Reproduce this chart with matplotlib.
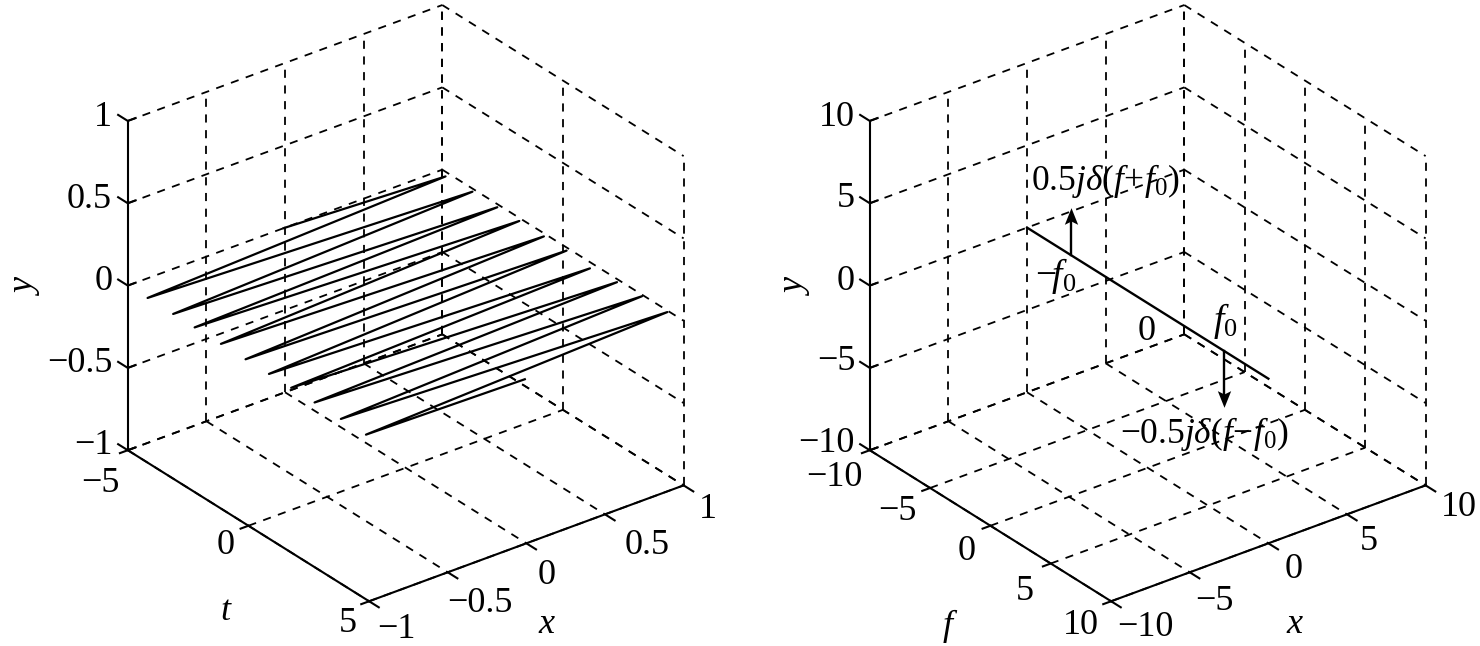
#!/usr/bin/env python3

import matplotlib
matplotlib.use("Agg")
import matplotlib.pyplot as plt

plt.rcParams["font.family"] = ["Liberation Serif", "DejaVu Serif"]
plt.rcParams["mathtext.fontset"] = "custom"
plt.rcParams["mathtext.rm"] = "Liberation Serif"
plt.rcParams["mathtext.it"] = "Liberation Serif:italic"

W, H = 1480, 646
SIDE = 655
FONT = 26

# left panel
t_ticks = [-5, 0, 5]
x_ticks = [-1, -0.5, 0, 0.5, 1]
y_ticks = [-1, -0.5, 0, 0.5, 1]

zigzag_t = [-5.0, -4.67, -4.18, -3.62, -3.12, -2.59, -2.23, -1.68, -1.14, -0.66, -0.12,
            0.28, 0.85, 1.38, 1.77, 2.37, 2.74, 3.34, 3.83, 4.39, 4.87, 5.0]
zigzag_x = [-0.01, 0.97, -1.0, 0.98, -1.0, 0.98, -1.0, 0.98, -1.0, 0.98, -1.0,
            0.98, -1.0, 0.96, -1.0, 0.98, -1.0, 0.99, -1.0, 0.99, -1.0, -0.01]

# right panel
f_ticks = [-10, -5, 0, 5, 10]
xf_ticks = [-10, -5, 0, 5, 10]
yf_ticks = [-10, -5, 0, 5, 10]

line_f = [-10, 10]
f0 = 6.32
up_height = 2.4
down_height = -2.9

DASH = (0, (4.5, 4.2))
HEAD = [(0, 1), (-0.8, -1), (0, -0.6), (0.8, -1)]


def make_axes(cx, cy, xl, yl, zl):
    ax = plt.figure(1).add_axes(
        [(cx - SIDE / 2) / W, 1 - (cy + SIDE / 2) / H, SIDE / W, SIDE / H],
        projection="3d", proj_type="ortho")
    ax.view_init(28.7, -37.5)
    ax.set_box_aspect((1, 1, 0.947))
    ax.set_xlim(*xl, view_margin=0)
    ax.set_ylim(*yl, view_margin=0)
    ax.set_zlim(*zl, view_margin=0)
    ax.set_axis_off()
    return ax


def draw_box(ax, ts, xs, ys):
    t0, t1 = ts[0], ts[-1]
    x0, x1 = xs[0], xs[-1]
    y0, y1 = ys[0], ys[-1]
    grid = dict(color="k", lw=1.3, ls=DASH)
    for t in ts:
        ax.plot([t, t], [x0, x1], [y0, y0], **grid)
        ax.plot([t, t], [x1, x1], [y0, y1], **grid)
    for x in xs:
        ax.plot([t0, t1], [x, x], [y0, y0], **grid)
        ax.plot([t0, t0], [x, x], [y0, y1], **grid)
    for y in ys:
        ax.plot([t0, t0], [x0, x1], [y, y], **grid)
        ax.plot([t0, t1], [x1, x1], [y, y], **grid)

    axis = dict(color="k", lw=1.5)
    ax.plot([t0, t0], [x0, x0], [y0, y1], **axis)
    ax.plot([t0, t1], [x0, x0], [y0, y0], **axis)
    ax.plot([t1, t1], [x0, x1], [y0, y0], **axis)
    # ticks: y ones go both ways
    dt = (t1 - t0) * 0.04
    dx = (x1 - x0) * 0.025
    for y in ys:
        ax.plot([t0 - dt, t0, t0], [x0, x0, x0 + dx], [y, y, y], **axis)
    for t in ts:
        ax.plot([t, t], [x0 - dx, x0], [y0, y0], **axis)
    for x in xs:
        ax.plot([t1, t1 + dt], [x, x], [y0, y0], **axis)


def label(px, py, s, **kw):
    # py is the middle of a digit, so sit on the baseline 12.5 px lower
    plt.figure(1).text(px / W, 1 - (py + 12.5) / H, s, ha="center", va="baseline",
                       fontsize=kw.pop("fontsize", FONT), **kw)


fig = plt.figure(1, figsize=(W / 100, H / 100), dpi=100)

ax1 = make_axes(396.85, 312, (-5, 5), (-1, 1), (-1, 1))
draw_box(ax1, t_ticks, x_ticks, y_ticks)
ax1.plot(zigzag_t, zigzag_x, [0] * len(zigzag_t), color="k", lw=1.6)

ax2 = make_axes(1138.85, 312, (-10, 10), (-10, 10), (-10, 10))
draw_box(ax2, f_ticks, xf_ticks, yf_ticks)
ax2.plot(line_f, [0, 0], [0, 0], color="k", lw=1.7)
ax2.plot([-f0, -f0], [0, 0], [0, up_height], color="k", lw=1.7)
ax2.plot([-f0], [0], [up_height], marker=HEAD, ms=12, color="k", mew=0)
ax2.plot([f0, f0], [0, 0], [0, down_height], color="k", lw=1.7)
ax2.plot([f0], [0], [down_height], marker=[(a, -b) for a, b in HEAD], ms=12, color="k", mew=0)

for px, py, s in [(103, 114, "1"), (89, 196, "0.5"), (103.5, 277, "0"), (79.5, 359, "\u22120.5"), (93, 441, "\u22121"),
                  (100.5, 479, "\u22125"), (226, 542, "0"), (347.5, 619, "5"),
                  (396, 625, "\u22121"), (480, 599, "\u22120.5"), (547, 571, "0"), (647, 541, "0.5"), (708, 506, "1"),
                  (837, 114, "10"), (846, 195, "5"), (846, 277, "0"), (836, 358, "\u22125"), (826, 439, "\u221210"),
                  (834, 473, "\u221210"), (897, 508, "\u22125"), (967, 547, "0"), (1025, 587, "5"), (1081, 622, "10"),
                  (1145, 623, "\u221210"), (1214, 597, "\u22125"), (1294, 566, "0"), (1369, 537, "5"), (1459, 504, "10")]:
    label(px, py, s)

fig.text(25 / W, 1 - 285 / H, "$\\mathit{y}$", rotation=90, ha="center", va="center", fontsize=FONT)
fig.text(795 / W, 1 - 285 / H, "$\\mathit{y}$", rotation=90, ha="center", va="center", fontsize=FONT)
label(226, 607.5, "$\\mathit{t}$")
label(547, 620.5, "$\\mathit{x}$")
label(950, 622.5, "$\\mathit{f}$")
label(1295, 620.5, "$\\mathit{x}$")

label(1106, 177.5, "$0.5\\mathit{j\\delta}(\\mathit{f}\\!+\\!\\mathit{f}_0)$", fontsize=25.5)
label(1056, 273.5, "$-\\!\\mathit{f}_0$", fontsize=27)
label(1147, 328, "0")
label(1225, 318.5, "$\\mathit{f}_0$", fontsize=27)
label(1205, 430.5, "$-0.5\\mathit{j\\delta}(\\mathit{f}\\!-\\!\\mathit{f}_0)$", fontsize=25.5)

fig.savefig("out.png", dpi=100)
